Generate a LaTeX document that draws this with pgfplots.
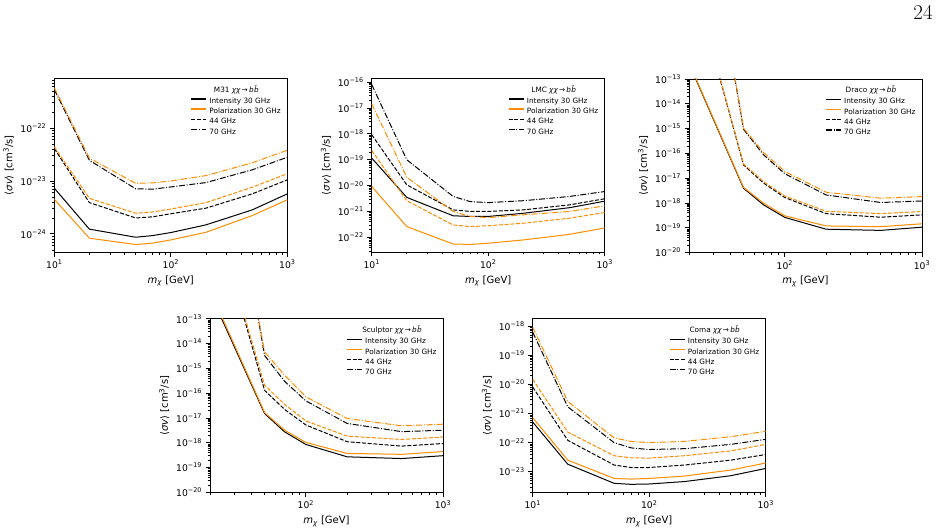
\documentclass[border=0pt]{standalone}
\usepackage{fontspec}
\setsansfont{DejaVu Sans}[ItalicFont={DejaVu Sans Oblique}]
\renewcommand{\familydefault}{\sfdefault}
\usepackage{pgfplots}
\pgfplotsset{compat=1.18}

\definecolor{mplorange}{RGB}{255,140,0}

% tick labels 10^n set in the text font
\newcommand\ee[1]{10\textsuperscript{−#1}}
\newcommand\ep[1]{10\textsuperscript{#1}}
% minor ticks 2..9 inside one decade
\newcommand\dec[1]{2e#1,3e#1,4e#1,5e#1,6e#1,7e#1,8e#1,9e#1}
\newcommand\chan{{\itshape χχ}\,→\,{\itshape b\kern0.3pt b̄}}
\newcommand\legfont{\fontsize{7.3}{8.5}\selectfont}
\newcommand\ltitle[1]{\node[font=\legfont, anchor=base, xshift=-51pt, yshift=-14pt]
  at (rel axis cs:1,1) {#1 \chan};}

\tikzset{
  lnInt/.style={black, line width=1pt, line join=round},
  lnPol/.style={mplorange, line width=1pt, line join=round},
  dA/.style={dash pattern=on 4pt off 1.7pt},
  dB/.style={dash pattern=on 6pt off 1.7pt on 1pt off 1.7pt},
}

\pgfplotsset{
  legend image code/.code={\draw[#1, line width=1.3pt] (0pt,2.6pt) -- (15.3pt,2.6pt);},
  /pgfplots/mypanel/.style={
    scale only axis, width=233pt, height=173.5pt, xmax=1000,
    axis line style={line width=0.8pt},
    tick pos=left, tick align=outside,
    major tick length=4.5pt, minor tick length=2.5pt,
    every major tick/.style={black, line width=0.8pt},
    every minor tick/.style={black, line width=0.6pt},
    tick label style={font=\fontsize{9.2}{11}\selectfont},
    label style={font=\fontsize{10}{12}\selectfont},
    xlabel={{\itshape m}\textsubscript{\itshape χ} [GeV]},
    ylabel={⟨{\itshape σv}⟩ [cm\textsuperscript{3}/s]},
    minor xtick={20,30,40,50,60,70,80,90,200,300,400,500,600,700,800,900},
    legend style={draw=none, fill=none, at={(1,1)}, anchor=north east,
      xshift=-6.5pt, yshift=-19.5pt, inner sep=0pt, outer sep=0pt,
      row sep=3.2pt, column sep=2.4pt, font=\legfont,
      nodes={inner sep=0pt, text height=5.5pt, text depth=1.5pt}},
    legend cell align=left,
  },
  /pgfplots/xfull/.style={xmin=10, xtick={10,100,1000}, xticklabels={\ep{1},\ep{2},\ep{3}}},
  /pgfplots/xcut/.style={xmin=20, xtick={100,1000}, xticklabels={\ep{2},\ep{3}}},
}

\begin{document}
\begin{tikzpicture}
\useasboundingbox (0pt,0pt) rectangle (940pt,529pt);
\node[font=\rmfamily\fontsize{21}{24}\selectfont, anchor=base] at (923pt,509pt) {24};

% ---------------- M31 ----------------
\begin{loglogaxis}[mypanel, xfull, at={(54.3pt,277pt)}, anchor=south west,
  ymin=4.55e-25, ymax=8.6e-22,
  ytick={1e-24,1e-23,1e-22}, yticklabels={\ee{24},\ee{23},\ee{22}},
  minor ytick/.expanded={5e-25,6e-25,7e-25,8e-25,9e-25,\dec{-24},\dec{-23},2e-22,3e-22,4e-22,5e-22,6e-22,7e-22,8e-22}]
\addplot[lnInt] coordinates {(10,7.3e-24)(20,1.23e-24)(50,8.65e-25)(70,9.3e-25)(100,1.06e-24)(200,1.48e-24)(500,2.84e-24)(1000,5.7e-24)};
\addlegendentry{Intensity 30 GHz}
\addplot[lnPol] coordinates {(10,4.5e-24)(20,8.3e-25)(50,6.3e-25)(70,6.7e-25)(100,7.7e-25)(200,1.07e-24)(500,2.22e-24)(1000,4.4e-24)};
\addlegendentry{Polarization 30 GHz}
\addplot[lnInt,dA] coordinates {(10,4.1e-23)(20,3.9e-24)(50,2.0e-24)(70,2.1e-24)(100,2.4e-24)(200,3.06e-24)(500,5.7e-24)(1000,1.05e-23)};
\addlegendentry{44 GHz}
\addplot[lnInt,dB] coordinates {(10,5.3e-22)(20,2.45e-23)(50,7.1e-24)(70,7.0e-24)(100,7.7e-24)(200,9.3e-24)(500,1.62e-23)(1000,2.8e-23)};
\addlegendentry{70 GHz}
\addplot[lnPol,dA,forget plot] coordinates {(10,4.4e-23)(20,4.7e-24)(50,2.45e-24)(70,2.6e-24)(100,2.95e-24)(200,3.9e-24)(500,7.6e-24)(1000,1.37e-23)};
\addplot[lnPol,dB,forget plot] coordinates {(10,5.7e-22)(20,2.7e-23)(50,9.0e-24)(70,9.2e-24)(100,1.0e-23)(200,1.26e-23)(500,2.2e-23)(1000,3.8e-23)};
\ltitle{M31}
\end{loglogaxis}

% ---------------- LMC ----------------
\begin{loglogaxis}[mypanel, xfull, at={(371.7pt,277pt)}, anchor=south west,
  ymin=2.7e-23, ymax=1.39e-16,
  ytick={1e-22,1e-21,1e-20,1e-19,1e-18,1e-17,1e-16},
  yticklabels={\ee{22},\ee{21},\ee{20},\ee{19},\ee{18},\ee{17},\ee{16}},
  minor ytick/.expanded={3e-23,4e-23,5e-23,6e-23,7e-23,8e-23,9e-23,\dec{-22},\dec{-21},\dec{-20},\dec{-19},\dec{-18},\dec{-17}}]
\addplot[lnInt] coordinates {(10,1.16e-19)(20,3.5e-21)(50,6.8e-22)(70,6.4e-22)(100,6.4e-22)(200,8.5e-22)(500,1.4e-21)(1000,2.5e-21)};
\addlegendentry{Intensity 30 GHz}
\addplot[lnPol] coordinates {(10,9.3e-21)(20,2.6e-22)(50,5.5e-23)(70,5.3e-23)(100,5.9e-23)(200,7.9e-23)(500,1.3e-22)(1000,2.3e-22)};
\addlegendentry{Polarization 30 GHz}
\addplot[lnInt,dA] coordinates {(10,9.3e-19)(20,1.07e-20)(50,1.15e-21)(70,1.0e-21)(100,1.0e-21)(200,1.15e-21)(500,1.8e-21)(1000,3.1e-21)};
\addlegendentry{44 GHz}
\addplot[lnInt,dB] coordinates {(10,8.1e-17)(20,1.0e-19)(50,3.8e-21)(70,2.4e-21)(100,2.2e-21)(200,2.6e-21)(500,3.8e-21)(1000,5.9e-21)};
\addlegendentry{70 GHz}
\addplot[lnPol,dA,forget plot] coordinates {(10,2.3e-19)(20,2.6e-21)(50,3.0e-22)(70,2.6e-22)(100,2.8e-22)(200,3.5e-22)(500,5.5e-22)(1000,9.1e-22)};
\addplot[lnPol,dB,forget plot] coordinates {(10,1.45e-17)(20,2.1e-20)(50,1.0e-21)(70,6.4e-22)(100,5.8e-22)(200,7.4e-22)(500,1.0e-21)(1000,1.65e-21)};
\ltitle{LMC}
\end{loglogaxis}

% ---------------- Draco ----------------
\begin{loglogaxis}[mypanel, xcut, at={(689pt,276.5pt)}, anchor=south west,
  ymin=1e-20, ymax=1e-13,
  ytick={1e-20,1e-19,1e-18,1e-17,1e-16,1e-15,1e-14,1e-13},
  yticklabels={\ee{20},\ee{19},\ee{18},\ee{17},\ee{16},\ee{15},\ee{14},\ee{13}},
  minor ytick/.expanded={\dec{-20},\dec{-19},\dec{-18},\dec{-17},\dec{-16},\dec{-15},\dec{-14}}]
\addplot[lnInt] coordinates {(20,4.2e-13)(50,3.9e-18)(70,8.3e-19)(100,2.6e-19)(200,8.7e-20)(500,7.8e-20)(1000,1.05e-19)};
\addlegendentry{Intensity 30 GHz}
\addplot[lnPol] coordinates {(20,4.5e-13)(50,4.2e-18)(70,9.7e-19)(100,3.0e-19)(200,1.18e-19)(500,1.1e-19)(1000,1.44e-19)};
\addlegendentry{Polarization 30 GHz}
\addplot[lnInt,dA] coordinates {(20,3.7e-9)(50,3.4e-17)(70,6.3e-18)(100,1.65e-18)(200,3.7e-19)(500,2.65e-19)(1000,3.3e-19)};
\addlegendentry{44 GHz}
\addplot[lnInt,dB] coordinates {(20,6.3e-3)(50,9.3e-16)(70,8.7e-17)(100,1.5e-17)(200,2.1e-18)(500,1.04e-18)(1000,1.2e-18)};
\addlegendentry{70 GHz}
\addplot[lnPol,dA,forget plot] coordinates {(20,4.0e-9)(50,3.7e-17)(70,7.2e-18)(100,1.9e-18)(200,4.6e-19)(500,3.7e-19)(1000,4.5e-19)};
\addplot[lnPol,dB,forget plot] coordinates {(20,7e-3)(50,1.03e-15)(70,1.07e-16)(100,1.85e-17)(200,2.7e-18)(500,1.55e-18)(1000,1.8e-18)};
\ltitle{Draco}
\end{loglogaxis}

% ---------------- Sculptor ----------------
\begin{loglogaxis}[mypanel, xcut, at={(210pt,36.7pt)}, anchor=south west,
  ymin=1e-20, ymax=1e-13,
  ytick={1e-20,1e-19,1e-18,1e-17,1e-16,1e-15,1e-14,1e-13},
  yticklabels={\ee{20},\ee{19},\ee{18},\ee{17},\ee{16},\ee{15},\ee{14},\ee{13}},
  minor ytick/.expanded={\dec{-20},\dec{-19},\dec{-18},\dec{-17},\dec{-16},\dec{-15},\dec{-14}}]
\addplot[lnInt] coordinates {(20,1.1e-12)(50,1.5e-17)(70,2.75e-18)(100,8.5e-19)(200,2.7e-19)(500,2.3e-19)(1000,3.0e-19)};
\addlegendentry{Intensity 30 GHz}
\addplot[lnPol] coordinates {(20,1.4e-12)(50,1.65e-17)(70,3.2e-18)(100,1.03e-18)(200,3.7e-19)(500,3.4e-19)(1000,4.4e-19)};
\addlegendentry{Polarization 30 GHz}
\addplot[lnInt,dA] coordinates {(20,7.6e-9)(50,1.3e-16)(70,2.2e-17)(100,5.2e-18)(200,1.1e-18)(500,7.3e-19)(1000,9.3e-19)};
\addlegendentry{44 GHz}
\addplot[lnInt,dB] coordinates {(20,2.2e-2)(50,3.3e-15)(70,3.0e-16)(100,4.9e-17)(200,6.0e-18)(500,2.8e-18)(1000,3.2e-18)};
\addlegendentry{70 GHz}
\addplot[lnPol,dA,forget plot] coordinates {(20,8e-9)(50,2.1e-16)(70,3.5e-17)(100,7.6e-18)(200,1.85e-18)(500,1.35e-18)(1000,1.7e-18)};
\addplot[lnPol,dB,forget plot] coordinates {(20,1.1e-2)(50,4.6e-15)(70,5.3e-16)(100,7.1e-17)(200,9.5e-18)(500,4.8e-18)(1000,5.6e-18)};
\ltitle{Sculptor}
\end{loglogaxis}

% ---------------- Coma ----------------
\begin{loglogaxis}[mypanel, xfull, at={(532.7pt,36.7pt)}, anchor=south west,
  ymin=1.97e-24, ymax=1.79e-18,
  ytick={1e-23,1e-22,1e-21,1e-20,1e-19,1e-18},
  yticklabels={\ee{23},\ee{22},\ee{21},\ee{20},\ee{19},\ee{18}},
  minor ytick/.expanded={\dec{-24},\dec{-23},\dec{-22},\dec{-21},\dec{-20},\dec{-19}}]
\addplot[lnInt] coordinates {(10,5.1e-22)(20,1.82e-23)(50,4.0e-24)(70,3.7e-24)(100,3.8e-24)(200,4.6e-24)(500,7.3e-24)(1000,1.3e-23)};
\addlegendentry{Intensity 30 GHz}
\addplot[lnPol] coordinates {(10,7.2e-22)(20,2.5e-23)(50,5.9e-24)(70,5.6e-24)(100,5.9e-24)(200,7.1e-24)(500,1.14e-23)(1000,2.0e-23)};
\addlegendentry{Polarization 30 GHz}
\addplot[lnInt,dA] coordinates {(10,8.1e-21)(20,1.2e-22)(50,1.7e-23)(70,1.4e-23)(100,1.4e-23)(200,1.7e-23)(500,2.5e-23)(1000,3.9e-23)};
\addlegendentry{44 GHz}
\addplot[lnInt,dB] coordinates {(10,6.2e-19)(20,1.7e-21)(50,1.0e-22)(70,6.6e-23)(100,5.8e-23)(200,6.2e-23)(500,8.7e-23)(1000,1.3e-22)};
\addlegendentry{70 GHz}
\addplot[lnPol,dA,forget plot] coordinates {(10,1.5e-20)(20,2.3e-22)(50,3.55e-23)(70,3.0e-23)(100,2.95e-23)(200,3.55e-23)(500,5.2e-23)(1000,8.7e-23)};
\addplot[lnPol,dB,forget plot] coordinates {(10,9.2e-19)(20,2.6e-21)(50,1.45e-22)(70,1.1e-22)(100,1.0e-22)(200,1.1e-22)(500,1.6e-22)(1000,2.45e-22)};
\ltitle{Coma}
\end{loglogaxis}
\end{tikzpicture}
\end{document}
